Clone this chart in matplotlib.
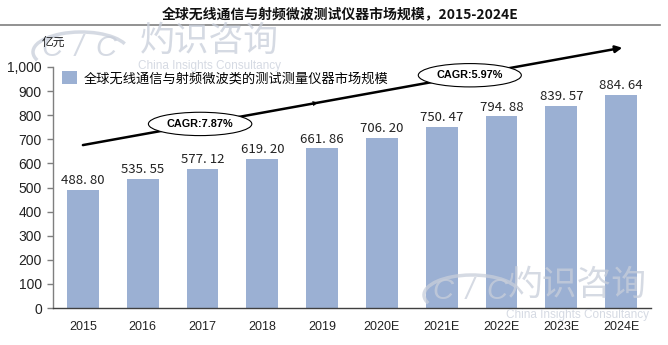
import matplotlib
matplotlib.use("Agg")
import matplotlib.pyplot as plt
from matplotlib.patches import Arc

plt.rcParams['font.family'] = ['Liberation Sans', 'Noto Sans CJK SC', 'DejaVu Sans']

years = ["2015", "2016", "2017", "2018", "2019", "2020E", "2021E", "2022E", "2023E", "2024E"]
values = [488.80, 535.55, 577.12, 619.20, 661.86, 706.20, 750.47, 794.88, 839.57, 884.64]
series_name = "全球无线通信与射频微波类的测试测量仪器市场规模"
title = "全球无线通信与射频微波测试仪器市场规模，2015-2024E"
unit = "亿元"
cagr_labels = ["CAGR:7.87%", "CAGR:5.97%"]
yticks = [0, 100, 200, 300, 400, 500, 600, 700, 800, 900, 1000]

W, H = 668, 345
fig = plt.figure(figsize=(W / 100, H / 100), dpi=100)
ax = fig.add_axes([53 / W, 1 - 308 / H, (651 - 53) / W, (308 - 67) / H])
ax.set_zorder(2)
ax.patch.set_alpha(0)

bar_color = "#9bb0d3"
x = list(range(len(years)))
bars = ax.bar(x, values, width=0.535, color=bar_color, zorder=2)

cjk = ['Noto Sans CJK SC', 'DejaVu Sans']
for xi, v in zip(x, values):
    ax.text(xi, v + 12, f"{v:.2f}".replace(".", ". "), ha="center", va="bottom",
            fontsize=9.5, family=cjk, color="#222222")

ax.set_xlim(-0.5, len(years) - 0.5)
ax.set_ylim(0, 1000)
ax.set_yticks(yticks)
ax.set_yticklabels([f"{t:,}" for t in yticks], fontsize=10, color="#222222")
ax.set_xticks(x)
ax.set_xticklabels(years, fontsize=9, color="#222222")
ax.tick_params(axis="x", length=0, pad=9)
ax.tick_params(axis="y", length=4, width=1, color="#7f7f7f", pad=4)
for s in ["top", "right"]:
    ax.spines[s].set_visible(False)
ax.spines["left"].set_color("#7f7f7f")
ax.spines["bottom"].set_color("#404040")
ax.spines["left"].set_linewidth(1)
ax.spines["bottom"].set_linewidth(1)

# semi-transparent watermarks drawn over the chart
wm = "#c8ceda"
wa = 0.75
def watermark(cx_cic, cy_cic, cx_cn, cy_cn, cy_en):
    for dx, ch in [(-27, "C"), (0, "/"), (27, "C")]:
        fig.text((cx_cic + dx) / W, 1 - cy_cic / H, ch, fontsize=21, color=wm, alpha=wa,
                 style="italic", ha="center", va="center", family=['Liberation Sans'], zorder=5)
    fig.add_artist(Arc(((cx_cic + 2) / W, 1 - (cy_cic + 4) / H), 96 / W, 40 / H,
                       theta1=20, theta2=200, transform=fig.transFigure,
                       color=wm, alpha=wa, lw=2.5, zorder=5))
    fig.text(cx_cn / W, 1 - cy_cn / H, "灼识咨询", fontsize=25, color=wm, alpha=wa,
             ha="center", va="center", family=cjk, zorder=5)
    fig.text(cx_cn / W, 1 - cy_en / H, "China Insights Consultancy", fontsize=8.5, color=wm,
             alpha=wa, ha="center", va="center", zorder=5)

watermark(79, 48, 209, 41, 66)
watermark(470, 291, 577, 285, 315)

# title + rule
fig.text(340 / W, 1 - 14 / H, title, fontsize=10, fontweight="bold", ha="center", va="center",
         family=cjk, color="#111111")
fig.add_artist(plt.Line2D([0, 660 / W], [1 - 25 / H, 1 - 25 / H], color="#7f7f7f", lw=1.2,
                          transform=fig.transFigure))
fig.text(42 / W, 1 - 42 / H, unit, fontsize=8.5, ha="left", va="center", family=cjk,
         color="#222222", zorder=6)

# legend
ax.legend([bars], [series_name], loc="upper left", bbox_to_anchor=(0.0, 1.02),
          frameon=False, prop={'family': 'Noto Sans CJK SC', 'size': 9.5},
          handlelength=1.1, handleheight=1.1, handletextpad=0.5, borderaxespad=0.3)

# growth arrow
x0, y0 = 0.0, 676
x1, y1 = 9.02, 1080
xm = 3.93
ym = y0 + (y1 - y0) * (xm - x0) / (x1 - x0)
ax.annotate("", xy=(x1, y1), xytext=(x0, y0), annotation_clip=False,
            arrowprops=dict(arrowstyle="-|>", color="black", lw=1.8, mutation_scale=10,
                            shrinkA=0, shrinkB=0), zorder=4)
ax.annotate("", xy=(xm, ym), xytext=(xm - 0.3, ym - 0.3 * (y1 - y0) / (x1 - x0)),
            annotation_clip=False,
            arrowprops=dict(arrowstyle="-|>", color="black", lw=0.1, mutation_scale=9,
                            shrinkA=0, shrinkB=0), zorder=4)
for cx, lab in zip([1.96, 6.47], cagr_labels):
    cy = y0 + (y1 - y0) * (cx - x0) / (x1 - x0)
    ax.text(cx, cy, lab, ha="center", va="center", fontsize=7.8, fontweight="bold",
            family=['Liberation Sans Narrow', 'Liberation Sans'], zorder=6,
            bbox=dict(boxstyle="ellipse,pad=0.3", fc="white", ec="black", lw=0.8))

fig.savefig("out.png", dpi=100)
